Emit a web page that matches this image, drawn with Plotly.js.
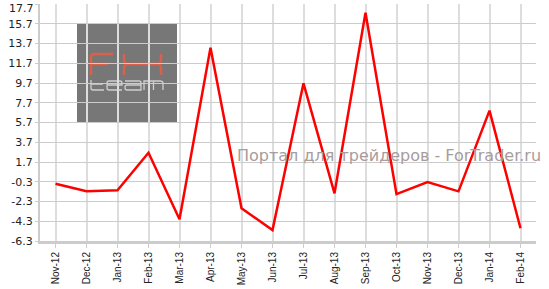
<!DOCTYPE html>
<html><head><meta charset="utf-8">
<script src="https://cdn.plot.ly/plotly-3.0.1.min.js"></script>
<style>html,body{margin:0;padding:0;background:#fff}#chart{width:549px;height:289px}</style>
</head><body><div id="chart"></div>
<script>
const categories = ["Nov-12","Dec-12","Jan-13","Feb-13","Mar-13","Apr-13","May-13","Jun-13","Jul-13","Aug-13","Sep-13","Oct-13","Nov-13","Dec-13","Jan-14","Feb-14"];
const values = [-0.5,-1.27,-1.17,2.64,-4.1,13.28,-2.99,-5.19,9.67,-1.47,16.82,-1.55,-0.33,-1.27,6.9,-5.01];
const yTickVals = [-6.3,-4.3,-2.3,-0.3,1.7,3.7,5.7,7.7,9.7,11.7,13.7,15.7,17.7];
const yTickText = ["-6.3","-4.3","-2.3","-0.3","1.7","3.7","5.7","7.7","9.7","11.7","13.7","15.7","17.7"];

// logo decoration helpers (pixel -> paper)
const PL = 40, PW = 496, PB = 241, PH = 237;
function P(cmds) {
  return cmds.replace(/(-?\d+(?:\.\d+)?),(-?\d+(?:\.\d+)?)/g, function(m, a, b) {
    return ((+a - PL) / PW).toFixed(4) + ',' + ((PB - +b) / PH).toFixed(4);
  });
}
const logoRed = [
  'M91,75 L91,57 Q91,54 94,54 L113,54 M91,64 L108,64',
  'M124,54 L124,60 Q124,64 128,64 L157,64 Q161,64 161,60 L161,54 M124,75 L124,68 Q124,64 128,64 M157,64 Q161,64 161,68 L161,75'
];
const logoGray = [
  'M91,80 L91,88 Q91,90 93,90 L104,90 M91,84 L103,84',
  'M122,90 L109,90 Q107,90 107,88 L107,83 Q107,81 109,81 L120,81 Q122,81 122,83 L122,85 L107,85',
  'M125,81 L139,81 Q141,81 141,83 L141,90 L127,90 Q125,90 125,88 L125,87 Q125,85 127,85 L141,85',
  'M144,90 L144,81 L160,81 Q163,81 163,83 L163,90 M153.5,81 L153.5,90'
];
const shapes = [{type: 'rect', xref: 'paper', yref: 'paper', x0: (77-PL)/PW, x1: (177-PL)/PW, y0: (PB-122)/PH, y1: (PB-24)/PH,
    fillcolor: '#777777', line: {width: 0}, layer: 'below'}];
logoRed.forEach(p => shapes.push({type: 'path', xref: 'paper', yref: 'paper', path: P(p), line: {color: '#d9614c', width: 2.5}, layer: 'below'}));
logoGray.forEach(p => shapes.push({type: 'path', xref: 'paper', yref: 'paper', path: P(p), line: {color: '#cfcfcf', width: 1.3}, layer: 'below'}));

// top tick label is nudged down (as in the reference) so it is not cut off
const axisTickText = yTickText.map((t, i) => i === yTickText.length - 1 ? '' : t);

const trace = {x: categories, y: values, type: 'scatter', mode: 'lines',
  line: {color: '#ff0000', width: 2.5}, hoverinfo: 'skip'};

const layout = {
  width: 549, height: 289,
  margin: {l: 40, r: 13, t: 4, b: 48},
  paper_bgcolor: '#ffffff', plot_bgcolor: '#ffffff',
  showlegend: false,
  font: {family: 'DejaVu Sans', size: 11, color: '#222'},
  xaxis: {type: 'category', range: [-0.5, 15.5], tickangle: -90,
    showgrid: true, gridcolor: '#dddddd', gridwidth: 2,
    showline: true, linecolor: '#cccccc', linewidth: 3,
    ticks: 'outside', ticklen: 4, tickcolor: '#cccccc', tickwidth: 1,
    tickfont: {family: 'Liberation Sans', size: 10, color: '#222'}, zeroline: false, fixedrange: true},
  yaxis: {range: [-6.3, 17.702], tickmode: 'array', tickvals: yTickVals, ticktext: axisTickText,
    showgrid: true, gridcolor: '#cccccc', gridwidth: 1,
    showline: true, linecolor: '#cccccc', linewidth: 2,
    ticks: 'outside', ticklen: 3, tickcolor: '#cccccc',
    tickfont: {family: 'DejaVu Sans', size: 11, color: '#222'}, zeroline: false, fixedrange: true},
  shapes: shapes,
  annotations: [
    {xref: 'paper', yref: 'paper', x: (36 - PL) / PW, y: (PB - 8.5) / PH, xanchor: 'right', yanchor: 'middle',
     text: yTickText[yTickText.length - 1], showarrow: false,
     font: {family: 'DejaVu Sans', size: 11, color: '#222'}},
    {xref: 'paper', yref: 'paper', x: 1.015, y: 0.36, xanchor: 'right', yanchor: 'middle', text: 'Портал для трейдеров - ForTrader.ru', showarrow: false,
     font: {family: 'DejaVu Sans', size: 16, color: '#a89c9c'}}
  ]
};
Plotly.newPlot('chart', [trace], layout, {displayModeBar: false, staticPlot: true});
</script></body></html>
